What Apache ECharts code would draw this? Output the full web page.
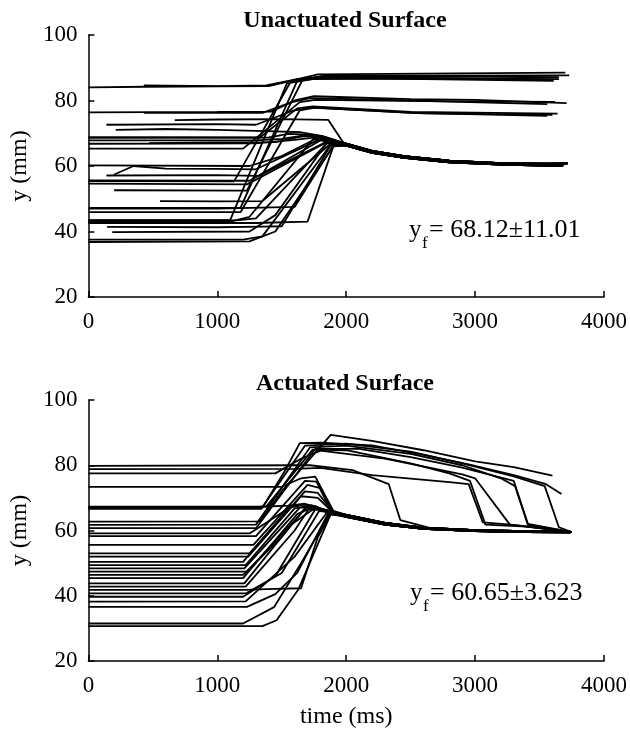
<!DOCTYPE html>
<html>
<head>
<meta charset="utf-8">
<script src="https://cdn.jsdelivr.net/npm/echarts@6/dist/echarts.min.js"></script>
<style>
html, body { margin: 0; padding: 0; background: #fff; }
#chart { width: 630px; height: 730px; }
</style>
</head>
<body>
<div id="chart"></div>
<script>
var serif = '"Liberation Serif", "Times New Roman", serif';

// axis ticks
var timeTicks = [0, 1000, 2000, 3000, 4000];
var yTicks = [20, 40, 60, 80, 100];

// settling tails (unactuated, ~60 mm)
var tailU1 = [[2000,66.8],[2200,64.6],[2450,63.0],[2800,61.6],[3200,60.9],[3700,60.6]];
var tailU2 = [[2000,66.2],[2200,64.0],[2450,62.5],[2800,61.1],[3200,60.4],[3680,60.0]];
var tailU3 = [[2000,66.5],[2200,64.3],[2450,62.7],[2800,61.3],[3200,60.6],[3720,60.8]];

// unactuated: trajectories ending high (~86-88 mm)
var unactHigh = [
    [[0,84.0],[450,84.2],[1000,84.3],[1400,84.4],[1600,86.3],[1780,88.0],[2600,88.2],[3700,88.5]],
    [[430,84.6],[1000,84.4],[1380,84.6],[1620,86.5],[1800,87.3],[2600,87.4],[3650,87.1]],
    [[0,55.4],[1130,55.3],[1570,85.8],[1760,86.8],[2600,86.5],[3610,86.0]],
    [[0,43.5],[1100,43.5],[1540,85.2],[1740,86.5],[2600,86.8],[3650,86.5]],
    [[0,47.2],[1180,47.2],[1620,86.0],[1820,87.5],[2600,87.6],[3730,87.7]],
    [[200,52.6],[1230,52.5],[1660,86.2],[1850,87.1],[2600,86.9],[3600,86.2]]
];
// unactuated: ending ~79-81 mm
var unactMid = [
    [[0,76.4],[1000,76.5],[1420,76.6],[1600,80.0],[1750,81.3],[2500,80.4],[3000,80.2],[3710,79.2]],
    [[430,76.2],[1350,76.2],[1580,79.5],[1720,80.7],[2500,80.0],[3560,78.9]],
    [[0,65.3],[1200,65.3],[1640,79.5],[1760,80.2],[2600,79.8],[3620,79.6]]
];
// unactuated: ending ~75-76 mm
var unactLow = [
    [[0,68.8],[1330,68.7],[1620,77.6],[1740,78.2],[2500,76.5],[3640,76.0]],
    [[0,45.9],[1180,45.9],[1640,77.0],[1760,77.8],[2500,76.2],[3560,75.3]],
    [[140,72.6],[1000,72.8],[1300,72.6],[1580,76.8],[1720,77.8],[2600,76.1],[3600,75.6]]
];
// unactuated: settling to ~60 mm
var unactSettle = [
    [[212,71.0],[600,71.3],[1000,71.0],[1450,70.6],[1650,70.3],[1800,69.3]].concat(tailU1),
    [[670,74.0],[1000,74.2],[1500,74.3],[1860,74.1],[1990,66.4],[2200,64.1],[2450,62.6],[2800,61.2],[3200,60.5],[3690,60.2]],
    [[0,68.6],[1400,68.7],[1550,69.8],[1700,69.6],[1820,68.8]].concat(tailU2),
    [[0,67.8],[1300,67.8],[1500,68.3],[1700,69.5],[1830,69.0]].concat(tailU3),
    [[0,66.8],[1300,66.9],[1600,68.0],[1800,68.9]].concat(tailU1),
    [[0,60.2],[1250,60.0],[1500,63.0],[1750,68.0],[1850,68.4]].concat(tailU2),
    [[200,57.4],[350,60.0],[600,59.2],[1000,59.1],[1300,59.0],[1800,68.2]].concat(tailU3),
    [[140,57.1],[1000,57.2],[1320,57.0],[1850,67.5]].concat(tailU1),
    [[0,55.6],[1250,55.5],[1800,67.8]].concat(tailU2),
    [[0,54.6],[1230,54.4],[1850,67.3]].concat(tailU3),
    [[555,49.3],[1000,49.2],[1350,49.3],[1880,66.8]].concat(tailU1),
    [[0,47.0],[1000,47.0],[1600,47.5],[1900,66.3]].concat(tailU2),
    [[0,43.4],[1150,43.4],[1300,44.0],[1850,67.0]].concat(tailU3),
    [[0,42.6],[1300,42.6],[1700,43.0],[1900,66.0]].concat(tailU1),
    [[145,41.4],[1000,41.3],[1350,41.5],[1500,41.6],[1880,66.3]].concat(tailU2),
    [[185,39.8],[1250,40.0],[1450,45.0],[1850,67.0]].concat(tailU3),
    [[0,37.5],[1200,37.5],[1350,38.5],[1880,66.5]].concat(tailU1),
    [[0,36.8],[1250,37.0],[1450,40.0],[1900,66.0]].concat(tailU2),
    [[0,43.0],[1100,43.0],[1250,44.5],[1750,68.5]].concat(tailU3),
    [[470,67.0],[1000,67.2],[1450,67.3],[1650,69.0],[1800,69.2]].concat(tailU1)
];

// settling tails (actuated, ~59.5 mm)
var tailA1 = [[2000,64.8],[2300,62.3],[2600,60.9],[3000,60.1],[3400,59.8],[3750,59.6]];
var tailA2 = [[2000,64.2],[2300,61.8],[2600,60.5],[3000,59.8],[3400,59.5],[3740,59.4]];
var tailA3 = [[2000,64.5],[2300,62.0],[2600,60.7],[3000,59.9],[3400,59.6],[3730,59.5]];

// actuated: overshoot high, slow decay / late drop
var actUpper = [
    [[0,62.7],[1330,62.8],[1500,72.0],[1880,89.3],[2200,87.5],[2600,84.6],[3000,81.2],[3300,79.4],[3600,76.8]],
    [[0,67.0],[1350,67.0],[1520,78.0],[1640,86.8],[1800,86.9],[2200,86.1],[2600,83.2],[2950,80.3],[3300,77.0],[3550,74.2],[3670,71.2]],
    [[0,66.6],[1340,66.6],[1680,86.0],[2000,86.6],[2500,84.2],[2900,80.6],[3300,76.6],[3540,73.6],[3650,61.0],[3745,59.6]],
    [[0,61.7],[1300,61.8],[1720,85.5],[2000,86.0],[2500,83.5],[2900,80.0],[3200,76.0],[3310,73.6],[3410,61.7],[3745,59.6]],
    [[0,67.3],[1380,67.3],[1740,84.8],[2000,84.6],[2500,80.6],[2800,77.5],[2960,75.2],[3080,61.8],[3400,61.2],[3745,59.6]],
    [[0,60.7],[1300,60.7],[1760,85.0],[2100,85.0],[2500,82.5],[2900,79.3],[3300,75.2],[3410,62.0],[3740,59.6]],
    [[0,79.8],[1640,80.0],[1720,80.0],[2050,78.5],[2330,74.2],[2420,63.2],[2700,60.3],[3200,59.8],[3740,59.6]],
    [[0,78.8],[1600,78.9],[1800,79.2],[2200,77.0],[2800,74.8],[2950,74.2],[3060,62.5],[3300,61.7],[3745,59.6]],
    [[0,77.5],[1450,77.5],[1650,82.0],[1800,84.5],[2300,82.0],[2900,77.2],[3000,76.0],[3270,61.8],[3745,59.6]]
];
// actuated: moderate overshoot then settle
var actMiddle = [
    [[0,73.4],[1500,73.4],[1650,76.0],[1760,76.5],[1900,66.0]].concat(tailA1),
    [[0,58.3],[1300,58.3],[1680,75.2],[1770,75.0],[1880,66.0]].concat(tailA2),
    [[0,55.6],[1280,55.6],[1700,74.0],[1800,73.0],[1900,65.8]].concat(tailA3),
    [[0,53.0],[1250,53.0],[1680,72.0],[1780,71.5],[1900,65.6]].concat(tailA1),
    [[0,52.0],[1240,52.0],[1650,70.5],[1780,70.0],[1880,66.2]].concat(tailA2)
];
// actuated: direct settle
var actSettle = [
    [[0,67.2],[1300,67.2],[1550,67.6],[1680,68.2],[1800,66.8]].concat(tailA1),
    [[0,59.1],[1250,59.1],[1560,67.0],[1680,68.0],[1800,66.4]].concat(tailA2),
    [[0,50.4],[1200,50.4],[1560,67.2],[1680,68.0],[1800,66.6]].concat(tailA3),
    [[0,49.4],[1220,49.4],[1600,66.8],[1720,67.6],[1820,66.2]].concat(tailA1),
    [[0,48.4],[1210,48.4],[1640,67.0],[1760,67.0],[1840,66.0]].concat(tailA2),
    [[0,47.4],[1230,47.4],[1680,66.5],[1800,66.5]].concat(tailA3),
    [[0,46.4],[1200,46.4],[1500,58.0],[1700,67.8],[1800,66.6]].concat(tailA1),
    [[0,43.8],[1210,43.8],[1580,62.0],[1760,67.0],[1840,65.8]].concat(tailA2),
    [[0,41.8],[1220,41.8],[1380,42.0],[1650,42.3],[1780,58.0],[1880,65.0]].concat(tailA3),
    [[0,40.7],[1220,40.7],[1500,47.0],[1790,66.0]].concat(tailA1),
    [[0,39.7],[1200,39.7],[1450,46.0],[1760,66.5],[1840,65.9]].concat(tailA2),
    [[0,38.2],[1220,38.3],[1600,52.0],[1850,65.5]].concat(tailA3),
    [[0,36.6],[1230,36.6],[1450,40.5],[1620,47.0],[1860,65.2]].concat(tailA1),
    [[0,31.5],[1200,31.5],[1440,36.5],[1650,50.0],[1870,65.0]].concat(tailA2),
    [[0,30.7],[1350,30.7],[1460,32.5],[1630,42.0],[1880,65.0]].concat(tailA3),
    [[0,42.8],[1220,42.8],[1600,60.0],[1730,67.8],[1820,66.4]].concat(tailA1),
    [[0,45.4],[1200,45.4],[1620,65.0],[1760,67.5],[1840,66.0]].concat(tailA2)
];

var titles = ['Unactuated Surface', 'Actuated Surface'];
var fitTexts = ['= 68.12\u00b111.01', '= 60.65\u00b13.623'];

function lineSeries(lines, idx) {
    return lines.map(function(d) {
        return {
            type: 'line',
            xAxisIndex: idx,
            yAxisIndex: idx,
            data: d,
            symbol: 'none',
            silent: true,
            lineStyle: { color: '#000', width: 1.8 }
        };
    });
}

function plain(v) {
    return String(v);
}

function xAxisFor(idx, name) {
    return {
        gridIndex: idx, type: 'value',
        min: timeTicks[0], max: timeTicks[timeTicks.length - 1], interval: 1000,
        axisLine: { show: true, onZero: false, lineStyle: { color: '#000', width: 1.5 } },
        axisTick: { show: true, inside: true, length: 6, lineStyle: { color: '#000', width: 1.5 } },
        axisLabel: { color: '#000', fontFamily: serif, fontSize: 23, margin: 13, formatter: plain },
        splitLine: { show: false },
        name: name, nameLocation: 'middle', nameGap: 44,
        nameTextStyle: { color: '#000', fontFamily: serif, fontSize: 24 }
    };
}

function yAxisFor(idx) {
    return {
        gridIndex: idx, type: 'value',
        min: yTicks[0], max: yTicks[yTicks.length - 1], interval: 20,
        axisLine: { show: true, onZero: false, lineStyle: { color: '#000', width: 1.5 } },
        axisTick: { show: true, inside: true, length: 6, lineStyle: { color: '#000', width: 1.5 } },
        axisLabel: { color: '#000', fontFamily: serif, fontSize: 23, margin: 11, formatter: plain },
        splitLine: { show: false },
        name: 'y (mm)', nameLocation: 'middle', nameGap: 52, nameRotate: 90,
        nameTextStyle: { color: '#000', fontFamily: serif, fontSize: 24 }
    };
}

function label(x, y, text, size, weight, align) {
    return {
        type: 'text', x: x, y: y, silent: true,
        style: {
            text: text, fill: '#000',
            font: (weight || 'normal') + ' ' + size + 'px ' + serif,
            align: align || 'left', verticalAlign: 'middle'
        }
    };
}

var chart = echarts.init(document.getElementById('chart'));
chart.setOption({
    animation: false,
    backgroundColor: '#fff',
    grid: [
        { left: 85, top: 35, width: 520, height: 262 },
        { left: 85, top: 400, width: 520, height: 261 }
    ],
    xAxis: [xAxisFor(0, ''), xAxisFor(1, 'time (ms)')],
    yAxis: [yAxisFor(0), yAxisFor(1)],
    graphic: [
        label(345, 21, titles[0], 24, 'bold', 'center'),
        label(345, 384, titles[1], 24, 'bold', 'center'),
        label(409, 230, 'y', 25),
        label(422, 244, 'f', 17),
        label(429, 230, fitTexts[0], 26),
        label(410, 593, 'y', 25),
        label(423, 607, 'f', 17),
        label(430, 593, fitTexts[1], 26)
    ],
    series: [].concat(
        lineSeries(unactHigh, 0), lineSeries(unactMid, 0),
        lineSeries(unactLow, 0), lineSeries(unactSettle, 0),
        lineSeries(actUpper, 1), lineSeries(actMiddle, 1),
        lineSeries(actSettle, 1)
    )
});
</script>
</body>
</html>
